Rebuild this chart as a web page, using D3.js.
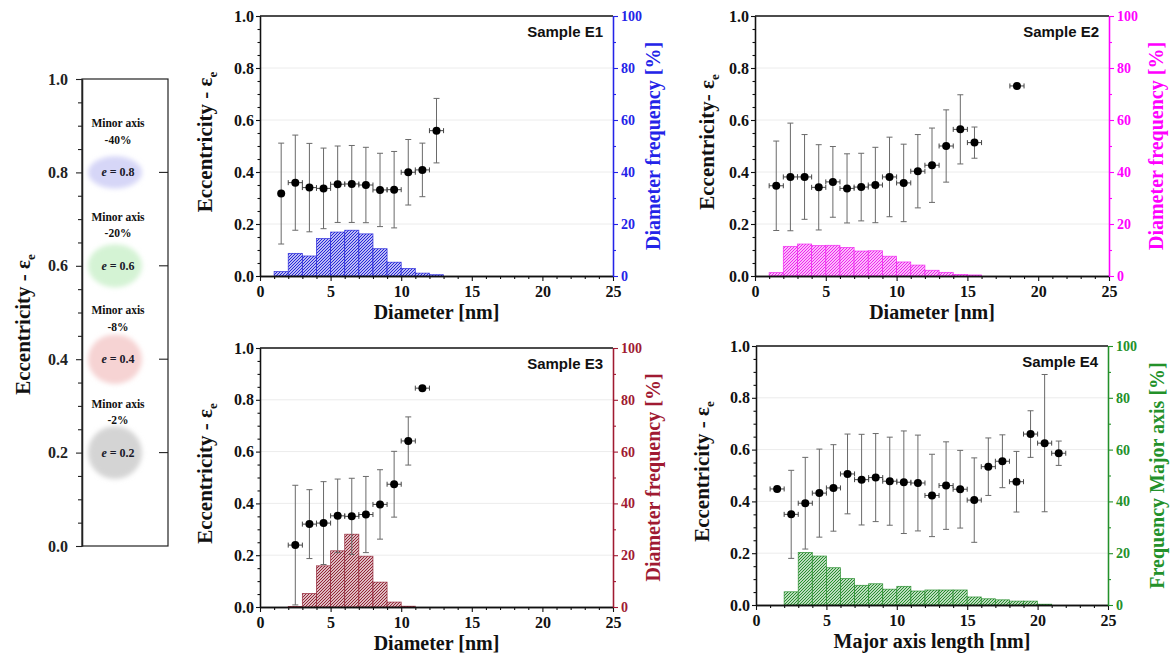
<!DOCTYPE html>
<html>
<head>
<meta charset="utf-8">
<script src="https://cdn.jsdelivr.net/npm/d3@7"></script>
<style>
  body { margin: 0; background: #fff; }
  svg { display: block; }
</style>
</head>
<body>
<svg id="chart" width="1171" height="660"></svg>
<script>
// ---------------- Data ----------------
// Sample E1: eccentricity vs. diameter, with diameter histogram
const e1Size    = [1.5, 2.5, 3.5, 4.5, 5.5, 6.5, 7.5, 8.5, 9.5, 10.5, 11.5, 12.5];
const e1Ecc     = [0.317, 0.359, 0.340, 0.337, 0.353, 0.354, 0.350, 0.331, 0.332, 0.399, 0.408, 0.559];
const e1EccSd   = [0.194, 0.183, 0.170, 0.155, 0.147, 0.148, 0.145, 0.141, 0.147, 0.126, 0.103, 0.124];
const e1SizeErr = [0, 0.5, 0.5, 0.5, 0.5, 0.5, 0.5, 0.5, 0.5, 0.5, 0.5, 0.5];
const e1BinStart = [1, 2, 3, 4, 5, 6, 7, 8, 9, 10, 11, 12];
const e1Freq     = [1.7, 8.7, 7.7, 14.4, 16.9, 17.6, 16.2, 10.5, 5.3, 2.9, 1.1, 0.5];

// Sample E2
const e2Size    = [1.5, 2.5, 3.5, 4.5, 5.5, 6.5, 7.5, 8.5, 9.5, 10.5, 11.5, 12.5, 13.5, 14.5, 15.5, 18.5];
const e2Ecc     = [0.347, 0.381, 0.381, 0.341, 0.362, 0.337, 0.342, 0.350, 0.381, 0.358, 0.403, 0.426, 0.500, 0.564, 0.513, 0.731];
const e2EccSd   = [0.172, 0.207, 0.163, 0.164, 0.136, 0.133, 0.130, 0.145, 0.153, 0.149, 0.141, 0.143, 0.139, 0.133, 0.060, 0];
const e2SizeErr = [0.5, 0.5, 0.5, 0.5, 0.5, 0.5, 0.5, 0.5, 0.5, 0.5, 0.5, 0.5, 0.5, 0.5, 0.5, 0.5];
const e2BinStart = [1, 2, 3, 4, 5, 6, 7, 8, 9, 10, 11, 12, 13, 14, 15];
const e2Freq     = [1.3, 11.4, 12.3, 11.7, 11.8, 11.0, 9.6, 9.7, 7.6, 5.4, 4.2, 2.2, 1.4, 0.6, 0.4];

// Sample E3
const e3Size    = [2.5, 3.5, 4.5, 5.5, 6.5, 7.5, 8.5, 9.5, 10.5, 11.5];
const e3Ecc     = [0.239, 0.320, 0.324, 0.352, 0.350, 0.357, 0.396, 0.474, 0.641, 0.845];
const e3EccSd   = [0.231, 0.133, 0.160, 0.142, 0.147, 0.147, 0.134, 0.127, 0.093, 0];
const e3SizeErr = [0.5, 0.5, 0.5, 0.5, 0.5, 0.5, 0.5, 0.5, 0.5, 0.5];
const e3BinStart = [2, 3, 4, 5, 6, 7, 8, 9, 10];
const e3Freq     = [0.2, 5.2, 15.9, 21.7, 28.1, 19.6, 9.6, 1.9, 0.3];

// Sample E4: eccentricity vs. major axis length, with major-axis histogram
const e4Size    = [1.5, 2.5, 3.5, 4.5, 5.5, 6.5, 7.5, 8.5, 9.5, 10.5, 11.5, 12.5, 13.5, 14.5, 15.5, 16.5, 17.5, 18.5, 19.5, 20.5, 21.5];
const e4Ecc     = [0.448, 0.350, 0.393, 0.432, 0.452, 0.506, 0.484, 0.492, 0.478, 0.474, 0.471, 0.423, 0.461, 0.447, 0.405, 0.534, 0.555, 0.476, 0.660, 0.625, 0.586];
const e4EccSd   = [0, 0.170, 0.177, 0.170, 0.167, 0.154, 0.175, 0.170, 0.170, 0.198, 0.185, 0.159, 0.169, 0.150, 0.163, 0.111, 0.102, 0.117, 0.090, 0.265, 0.047];
const e4SizeErr = [0.5, 0.5, 0.5, 0.5, 0.5, 0.5, 0.5, 0.5, 0.5, 0.5, 0.5, 0.5, 0.5, 0.5, 0.5, 0.5, 0.5, 0.5, 0.5, 0.5, 0.5];
const e4BinStart = [2, 3, 4, 5, 6, 7, 8, 9, 10, 11, 12, 13, 14, 15, 16, 17, 18, 19, 20];
const e4Freq     = [5.1, 20.3, 18.9, 14.4, 10.2, 7.6, 8.2, 6.1, 7.2, 5.4, 5.8, 5.8, 5.8, 3.1, 2.4, 2.0, 1.5, 1.5, 0.3];

// Reference ellipses: eccentricity and the matching minor-axis reduction
const legendEcc   = [0.8, 0.6, 0.4, 0.2];
const legendMinor = ["-40%", "-20%", "-8%", "-2%"];

// Axis tick values
const eccTicks   = [0, 0.2, 0.4, 0.6, 0.8, 1.0];
const sizeTicks  = [0, 5, 10, 15, 20, 25];
const freqTicks  = [0, 20, 40, 60, 80, 100];

// ---------------- Styles ----------------
const SERIF = '"Liberation Serif","Times New Roman",Times,serif';
const SANS  = '"Liberation Sans",Arial,Helvetica,sans-serif';
const legendFills = ["#d6d6f7", "#d4f3d4", "#f6d3d3", "#d4d4d4"];

const svg = d3.select("#chart");
const defs = svg.append("defs");

// soft edge for the reference ellipses
defs.append("filter").attr("id", "soft")
  .attr("x", "-30%").attr("y", "-30%").attr("width", "160%").attr("height", "160%")
  .append("feGaussianBlur").attr("stdDeviation", 2.6);

function addHatch(id, color) {
  const p = defs.append("pattern")
    .attr("id", id)
    .attr("patternUnits", "userSpaceOnUse")
    .attr("width", 3).attr("height", 3);
  p.append("rect").attr("width", 3).attr("height", 3).attr("fill", "#fff");
  p.append("path")
    .attr("d", "M-1,1 L1,-1 M0,3 L3,0 M2,4 L4,2")
    .attr("stroke", color).attr("stroke-width", 1.15);
}

function styleAxis(g, color, size) {
  g.select(".domain").attr("stroke", color).attr("stroke-width", 1.3);
  g.selectAll(".tick line").attr("stroke", color).attr("stroke-width", 1.1);
  g.selectAll(".tick text")
    .attr("fill", color)
    .attr("font-family", SERIF)
    .attr("font-weight", "bold")
    .attr("font-size", size);
}

// ---------------- Panels ----------------
const panels = [
  { id: "E1", title: "Sample E1", left: 260, right: 613, top: 16, bottom: 276,
    color: "#2424e8", hatch: "#1e1ed8",
    size: e1Size, ecc: e1Ecc, eccSd: e1EccSd, sizeErr: e1SizeErr, binStart: e1BinStart, freq: e1Freq,
    xLabel: "Diameter [nm]", yLabel: "Eccentricity - ", rLabel: "Diameter frequency [%]",
    yLabelX: 212, rLabelX: 660 },
  { id: "E2", title: "Sample E2", left: 755, right: 1109, top: 16, bottom: 276,
    color: "#ff00ff", hatch: "#f01cf0",
    size: e2Size, ecc: e2Ecc, eccSd: e2EccSd, sizeErr: e2SizeErr, binStart: e2BinStart, freq: e2Freq,
    xLabel: "Diameter [nm]", yLabel: "Eccentricity- ", rLabel: "Diameter frequency [%]",
    yLabelX: 714, rLabelX: 1163 },
  { id: "E3", title: "Sample E3", left: 260, right: 613, top: 348, bottom: 607,
    color: "#a01a32", hatch: "#8e1c2e",
    size: e3Size, ecc: e3Ecc, eccSd: e3EccSd, sizeErr: e3SizeErr, binStart: e3BinStart, freq: e3Freq,
    xLabel: "Diameter [nm]", yLabel: "Eccentricity - ", rLabel: "Diameter frequency [%]",
    yLabelX: 212, rLabelX: 660 },
  { id: "E4", title: "Sample E4", left: 756, right: 1108, top: 346, bottom: 605,
    color: "#23912a", hatch: "#1f8a26",
    size: e4Size, ecc: e4Ecc, eccSd: e4EccSd, sizeErr: e4SizeErr, binStart: e4BinStart, freq: e4Freq,
    xLabel: "Major axis length [nm]", yLabel: "Eccentricity - ", rLabel: "Frequency Major axis [%]",
    yLabelX: 709, rLabelX: 1164 }
];

function drawPanel(p) {
  const x  = d3.scaleLinear().domain([0, 25]).range([p.left, p.right]);
  const y  = d3.scaleLinear().domain([0, 1]).range([p.bottom, p.top]);
  const yr = d3.scaleLinear().domain([0, 100]).range([p.bottom, p.top]);
  const g = svg.append("g").attr("class", "panel-" + p.id);
  addHatch("hatch-" + p.id, p.hatch);

  // faint horizontal guide lines
  g.append("g").selectAll("line")
    .data(eccTicks.filter(v => v > 0 && v < 1))
    .join("line")
    .attr("x1", p.left).attr("x2", p.right)
    .attr("y1", d => y(d)).attr("y2", d => y(d))
    .attr("stroke", "#ececec").attr("stroke-width", 1);

  // histogram bars (right axis, %)
  const bins = p.binStart.map((b, i) => ({ b, f: p.freq[i] }));
  g.append("g").selectAll("rect")
    .data(bins)
    .join("rect")
    .attr("x", d => x(d.b))
    .attr("width", d => x(d.b + 1) - x(d.b))
    .attr("y", d => yr(d.f))
    .attr("height", d => yr(0) - yr(d.f))
    .attr("fill", `url(#hatch-${p.id})`)
    .attr("stroke", p.hatch)
    .attr("stroke-opacity", 0.8)
    .attr("stroke-width", 0.8);

  // minor ticks
  const minorY = d3.range(0, 1.0001, 0.05).filter(v => Math.abs(v * 5 - Math.round(v * 5)) > 1e-6);
  const minorX = d3.range(0, 26, 1).filter(v => v % 5 !== 0);
  const minorR = [10, 30, 50, 70, 90];

  const axL = g.append("g").attr("transform", `translate(${p.left},0)`)
    .call(d3.axisLeft(y).tickValues(eccTicks).tickFormat(d3.format(".1f")).tickSize(4).tickSizeOuter(0).tickPadding(2));
  styleAxis(axL, "#111", "16px");
  const axLm = g.append("g").attr("transform", `translate(${p.left},0)`)
    .call(d3.axisLeft(y).tickValues(minorY).tickFormat("").tickSize(2.5).tickSizeOuter(0));
  styleAxis(axLm, "#111", "1px");

  const axB = g.append("g").attr("transform", `translate(0,${p.bottom})`)
    .call(d3.axisBottom(x).tickValues(sizeTicks).tickSize(5).tickSizeOuter(0).tickPadding(5));
  styleAxis(axB, "#111", "16px");
  const axBm = g.append("g").attr("transform", `translate(0,${p.bottom})`)
    .call(d3.axisBottom(x).tickValues(minorX).tickFormat("").tickSize(3).tickSizeOuter(0));
  styleAxis(axBm, "#111", "1px");

  // top frame line
  g.append("line")
    .attr("x1", p.left).attr("x2", p.right)
    .attr("y1", p.top).attr("y2", p.top)
    .attr("stroke", "#111").attr("stroke-width", 1.3);

  const axR = g.append("g").attr("transform", `translate(${p.right},0)`)
    .call(d3.axisRight(yr).tickValues(freqTicks).tickSize(5).tickSizeOuter(0).tickPadding(3));
  styleAxis(axR, p.color, "14px");
  const axRm = g.append("g").attr("transform", `translate(${p.right},0)`)
    .call(d3.axisRight(yr).tickValues(minorR).tickFormat("").tickSize(3).tickSizeOuter(0));
  styleAxis(axRm, p.color, "1px");

  // eccentricity points with error bars
  const pts = p.size.map((s, i) => ({ s, e: p.ecc[i], sd: p.eccSd[i], xe: p.sizeErr[i] }));
  const eb = g.append("g");
  // vertical (eccentricity) bars
  pts.filter(d => d.sd > 0).forEach(d => {
    const cx = x(d.s), y1 = y(d.e + d.sd), y2 = y(d.e - d.sd);
    eb.append("line").attr("x1", cx).attr("x2", cx).attr("y1", y1).attr("y2", y2)
      .attr("stroke", "#6a6a6a").attr("stroke-width", 1);
    [y1, y2].forEach(yy => eb.append("line")
      .attr("x1", cx - 3).attr("x2", cx + 3).attr("y1", yy).attr("y2", yy)
      .attr("stroke", "#6a6a6a").attr("stroke-width", 1));
  });
  // horizontal (size) bars
  pts.filter(d => d.xe > 0).forEach(d => {
    const cy = y(d.e), x1 = x(d.s - d.xe), x2 = x(d.s + d.xe);
    eb.append("line").attr("x1", x1).attr("x2", x2).attr("y1", cy).attr("y2", cy)
      .attr("stroke", "#444").attr("stroke-width", 1);
    [x1, x2].forEach(xx => eb.append("line")
      .attr("x1", xx).attr("x2", xx).attr("y1", cy - 2.5).attr("y2", cy + 2.5)
      .attr("stroke", "#444").attr("stroke-width", 1));
  });
  g.append("g").selectAll("circle")
    .data(pts)
    .join("circle")
    .attr("cx", d => x(d.s))
    .attr("cy", d => y(d.e))
    .attr("r", 4)
    .attr("fill", "#000");

  // sample name
  g.append("text")
    .attr("x", p.right - 10).attr("y", p.top + 21)
    .attr("text-anchor", "end")
    .attr("font-family", SANS).attr("font-weight", "bold").attr("font-size", "15px")
    .attr("fill", "#111")
    .text(p.title);

  // axis titles
  g.append("text")
    .attr("x", (p.left + p.right) / 2).attr("y", p.bottom + 43)
    .attr("text-anchor", "middle")
    .attr("font-family", SERIF).attr("font-weight", "bold").attr("font-size", "20px")
    .attr("fill", "#111")
    .text(p.xLabel);

  const yl = g.append("text")
    .attr("transform", `translate(${p.yLabelX},${(p.top + p.bottom) / 2 - 4}) rotate(-90)`)
    .attr("text-anchor", "middle")
    .attr("font-family", SERIF).attr("font-weight", "bold").attr("font-size", "21px")
    .attr("fill", "#111");
  yl.append("tspan").text(p.yLabel + "\u03b5");
  yl.append("tspan").attr("font-size", "13px").attr("dy", "0.35em").text("e");

  g.append("text")
    .attr("transform", `translate(${p.rLabelX},${(p.top + p.bottom) / 2}) rotate(-90)`)
    .attr("text-anchor", "middle")
    .attr("font-family", SERIF).attr("font-weight", "bold").attr("font-size", "20px")
    .attr("fill", p.color)
    .text(p.rLabel);
}

panels.forEach(drawPanel);

// ---------------- Reference ellipse column ----------------
(function drawLegend() {
  const L = { left: 82, right: 168, top: 79, bottom: 546 };
  const y = d3.scaleLinear().domain([0, 1]).range([L.bottom, L.top]);
  const g = svg.append("g").attr("class", "ellipse-key");

  // frame
  g.append("rect")
    .attr("x", L.left).attr("y", L.top)
    .attr("width", L.right - L.left).attr("height", L.bottom - L.top)
    .attr("fill", "none").attr("stroke", "#222").attr("stroke-width", 1.2);

  const ax = g.append("g").attr("transform", `translate(${L.left},0)`)
    .call(d3.axisLeft(y).tickValues(eccTicks).tickFormat(d3.format(".1f")).tickSize(6).tickSizeOuter(0).tickPadding(8));
  styleAxis(ax, "#222", "16px");
  const minor = d3.range(0, 1.0001, 0.05).filter(v => Math.abs(v * 5 - Math.round(v * 5)) > 1e-6);
  const axm = g.append("g").attr("transform", `translate(${L.left},0)`)
    .call(d3.axisLeft(y).tickValues(minor).tickFormat("").tickSize(4).tickSizeOuter(0));
  styleAxis(axm, "#222", "1px");

  // inner ticks on the right edge
  g.append("g").selectAll("line")
    .data(legendEcc)
    .join("line")
    .attr("x1", L.right - 9).attr("x2", L.right)
    .attr("y1", d => y(d)).attr("y2", d => y(d))
    .attr("stroke", "#222").attr("stroke-width", 1.1);

  const cx = 115, tx = 118, rx = 27;
  legendEcc.forEach((e, i) => {
    g.append("ellipse")
      .attr("cx", cx).attr("cy", y(e))
      .attr("rx", rx).attr("ry", rx * Math.sqrt(1 - e * e))
      .attr("fill", legendFills[i])
      .attr("filter", "url(#soft)");
    const lab = g.append("text")
      .attr("x", tx).attr("y", y(e) + 4)
      .attr("text-anchor", "middle")
      .attr("font-family", SERIF).attr("font-weight", "bold").attr("font-size", "12px")
      .attr("fill", "#1a1a2a");
    lab.append("tspan").attr("font-style", "italic").text("e");
    lab.append("tspan").text(" = " + e.toFixed(1));

    g.append("text")
      .attr("x", tx).attr("y", y(e + 0.105) + 4)
      .attr("text-anchor", "middle")
      .attr("font-family", SERIF).attr("font-weight", "bold").attr("font-size", "11.5px")
      .attr("fill", "#111")
      .text("Minor axis");
    g.append("text")
      .attr("x", tx).attr("y", y(e + 0.07) + 4)
      .attr("text-anchor", "middle")
      .attr("font-family", SERIF).attr("font-weight", "bold").attr("font-size", "11.5px")
      .attr("fill", "#111")
      .text(legendMinor[i]);
  });

  const t = g.append("text")
    .attr("transform", `translate(30,${(L.top + L.bottom) / 2 + 12}) rotate(-90)`)
    .attr("text-anchor", "middle")
    .attr("font-family", SERIF).attr("font-weight", "bold").attr("font-size", "21px")
    .attr("fill", "#111");
  t.append("tspan").text("Eccentricity - \u03b5");
  t.append("tspan").attr("font-size", "13px").attr("dy", "0.35em").text("e");
})();
</script>
</body>
</html>
